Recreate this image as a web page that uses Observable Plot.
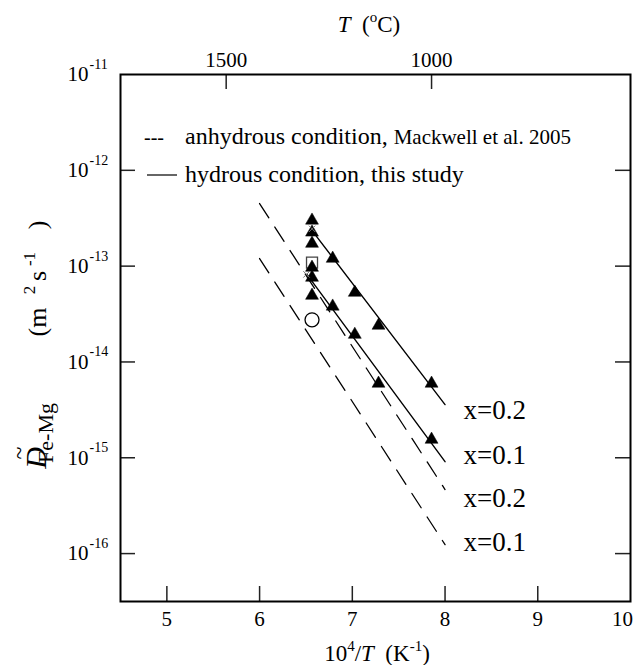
<!DOCTYPE html>
<html><head><meta charset="utf-8">
<script src="https://cdn.jsdelivr.net/npm/d3@7"></script>
<script src="https://cdn.jsdelivr.net/npm/@observablehq/plot@0.6"></script>
<style>body{margin:0;background:#fff}</style>
</head><body><div id="chart"></div>
<script>
// ---- data ----
const xTicks = [5, 6, 7, 8, 9, 10];
const xTickLabelsMain = [5, 6, 7, 8, 9];
const xTickLabelLast = [10];
const yTicks = [1e-11, 1e-12, 1e-13, 1e-14, 1e-15, 1e-16];
const yTickExponents = ["-11", "-12", "-13", "-14", "-15", "-16"];
const topTicksC = [1500, 1000];

// hydrous experiments (temperature in °C, D in m^2/s)
const hyd02T = [1250, 1250, 1250, 1200, 1150, 1100, 1000];
const hyd02D = [3.0e-13, 2.25e-13, 1.72e-13, 1.2e-13, 5.3e-14, 2.4e-14, 5.96e-15];
const hyd01T = [1250, 1250, 1250, 1200, 1150, 1100, 1000];
const hyd01D = [9.66e-14, 7.6e-14, 4.93e-14, 3.8e-14, 1.93e-14, 5.96e-15, 1.55e-15];
const squareT = [1250], squareD = [1.09e-13];
const circleT = [1250], circleD = [2.75e-14];
const crossX = [6.566, 6.506], crossD = [2.45e-13, 8.2e-14];

// fitted lines (x = 10^4/T)
const lineHyd02X = [6.566, 8.0], lineHyd02D = [2.35e-13, 3.59e-15];
const lineHyd01X = [6.51, 8.0], lineHyd01D = [8.2e-14, 9.1e-16];
const lineAnh02X = [6.0, 8.0], lineAnh02D = [4.5e-13, 4.66e-16];
const lineAnh01X = [6.0, 8.0], lineAnh01D = [1.2e-13, 1.24e-16];

const seriesLabels = ["x=0.2", "x=0.1", "x=0.2", "x=0.1"];
const seriesLabelX = [8.2, 8.2, 8.2, 8.2];
const seriesLabelD = [3.11e-15, 1.05e-15, 3.75e-16, 1.3e-16];

// ---- build ----
const toX = c => 1e4 / (c + 273.15);
const pts = (T, D) => T.map((t, i) => ({x: toX(t), y: D[i]}));
const seg = (X, D, s) => X.map((x, i) => ({x, y: D[i], s}));
const solidRows = [...seg(lineHyd02X, lineHyd02D, "h02"), ...seg(lineHyd01X, lineHyd01D, "h01")];
const dashRows = [...seg(lineAnh02X, lineAnh02D, "a02"), ...seg(lineAnh01X, lineAnh01D, "a01")];
const labelRows = seriesLabels.map((t, i) => ({t, x: seriesLabelX[i], y: seriesLabelD[i]}));
const yLabelRows = yTicks.map((v, i) => ({v, e: yTickExponents[i]}));
const crossRows = crossX.map((x, i) => ({x, y: crossD[i]}));

const W = 633, H = 665, mt = 74, mb = 64, ml = 120, mr = 3;
const fh = H - mt - mb, fw = W - ml - mr, tk = 15;
const FONT = '"Liberation Serif", "Times New Roman", serif';
const tickStyle = {stroke: "#222", strokeWidth: 1.5};

const chart = Plot.plot({
  width: W, height: H,
  marginTop: mt, marginBottom: mb, marginLeft: ml, marginRight: mr,
  style: {fontFamily: FONT, fontSize: "20px", background: "white", color: "black", overflow: "visible"},
  x: {domain: [4.5, 10], axis: null},
  y: {type: "log", domain: [10 ** -16.5, 1e-11], axis: null},
  marks: [
    Plot.tickX(xTicks.slice(0, -1), {x: d => d, insetTop: fh - tk, ...tickStyle}),
    Plot.tickX(topTicksC, {x: toX, insetBottom: fh - tk, ...tickStyle}),
    Plot.tickY(yTicks.slice(1), {y: d => d, insetRight: fw - tk, ...tickStyle}),
    Plot.tickY(yTicks.slice(1), {y: d => d, insetLeft: fw - tk, ...tickStyle}),
    Plot.frame({stroke: "black", strokeWidth: 2}),
    Plot.line(dashRows, {x: "x", y: "y", z: "s", stroke: "black", strokeWidth: 1.3, strokeDasharray: "17,11"}),
    Plot.line(solidRows, {x: "x", y: "y", z: "s", stroke: "black", strokeWidth: 1.4}),
    Plot.dot(pts(squareT, squareD), {x: "x", y: "y", symbol: "square", r: 6.2, fill: "none", stroke: "#444", strokeWidth: 1.3}),
    Plot.dot(pts(circleT, circleD), {x: "x", y: "y", symbol: "circle", r: 7, fill: "white", stroke: "black", strokeWidth: 1.3}),
    Plot.dot(pts(hyd02T, hyd02D), {x: "x", y: "y", symbol: "triangle", r: 4.8, fill: "black", stroke: "black", strokeWidth: 0.5}),
    Plot.dot(pts(hyd01T, hyd01D), {x: "x", y: "y", symbol: "triangle", r: 4.8, fill: "black", stroke: "black", strokeWidth: 0.5}),
    Plot.dot(crossRows, {x: "x", y: "y", symbol: "times", r: 3, stroke: "#777", strokeWidth: 1}),
    // axis tick labels
    Plot.text(xTickLabelsMain, {x: d => d, text: d => String(d), frameAnchor: "bottom", lineAnchor: "middle", dy: 18, fontSize: 21}),
    Plot.text(xTickLabelLast, {x: d => d, text: d => String(d), frameAnchor: "bottom", lineAnchor: "middle", dy: 18, dx: -8, fontSize: 21}),
    Plot.text(topTicksC, {x: toX, text: d => String(d), frameAnchor: "top", lineAnchor: "middle", dy: -14, fontSize: 21}),
    Plot.text(yLabelRows, {y: "v", text: () => "10", frameAnchor: "left", lineAnchor: "middle", textAnchor: "end", dx: -32, fontSize: 21}),
    Plot.text(yLabelRows, {y: "v", text: "e", frameAnchor: "left", lineAnchor: "middle", textAnchor: "start", dx: -31, dy: -10, fontSize: 14}),
    // series labels
    Plot.text(labelRows, {x: "x", y: "y", text: "t", textAnchor: "start", fontSize: 27})
  ]
});
document.getElementById("chart").appendChild(chart);

// ---- titles and legend (rich text) ----
const svg = d3.select(chart);
function rich(parent, x, y, parts, anchor) {
  const t = parent.append("text").attr("x", x).attr("y", y)
    .attr("font-family", FONT).attr("fill", "black")
    .attr("text-anchor", anchor || "start");
  parts.forEach(p => {
    const s = t.append("tspan").text(p.t).attr("font-size", p.s || 22);
    if (p.i) s.attr("font-style", "italic");
    if (p.dy) s.attr("dy", p.dy);
    if (p.dx) s.attr("dx", p.dx);
  });
  return t;
}
// top axis title
rich(svg, 369, 32, [
  {t: "T", i: 1, s: 23}, {t: "\u00a0\u00a0(", s: 23}, {t: "o", s: 15, dy: -10}, {t: "C)", s: 23, dy: 10}
], "middle");
// bottom axis title
rich(svg, 377, 661, [
  {t: "10", s: 23}, {t: "4", s: 15, dy: -10}, {t: "/", s: 23, dy: 10}, {t: "T", i: 1, s: 23},
  {t: "\u00a0\u00a0(K", s: 23}, {t: "-1", s: 15, dy: -10}, {t: ")", s: 23, dy: 10}
], "middle");
// y axis title (rotated)
const g = svg.append("g").attr("transform", "translate(46,0) rotate(-90)");
function piece(txt, lx, ly, size, italic) {
  const t = g.append("text").attr("x", lx).attr("y", ly).text(txt)
    .attr("font-family", FONT).attr("font-size", size).attr("fill", "black");
  if (italic) t.attr("font-style", "italic");
}
piece("D", -458, 0, 30, true);
piece("~", -453, -19, 24, false);
piece("Fe-Mg", -433, 7, 22, false);
piece("(m", -322, 0, 26, false);
piece("2", -290, -11, 17, false);
piece("s", -276, 0, 26, false);
piece("-1", -259, -11, 17, false);
piece(")", -225, 0, 26, false);
// legend
rich(svg, 144, 144, [{t: "---", s: 20}]);
rich(svg, 185, 144, [{t: "anhydrous condition, ", s: 24}, {t: "Mackwell et al. 2005", s: 21}]);
svg.append("line").attr("x1", 147).attr("x2", 177).attr("y1", 175).attr("y2", 175)
  .attr("stroke", "black").attr("stroke-width", 1.2);
rich(svg, 185, 182, [{t: "hydrous condition, this study", s: 24}]);
</script>
</body></html>
